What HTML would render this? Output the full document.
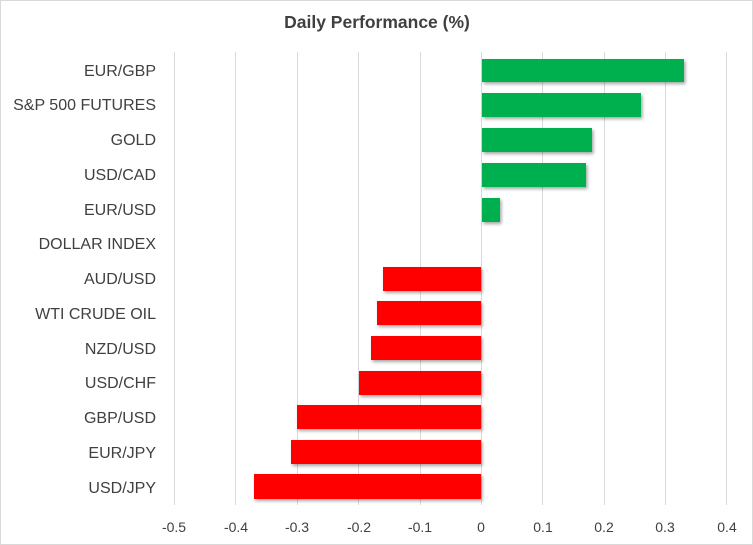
<!DOCTYPE html>
<html><head><style>
html,body{margin:0;padding:0;background:#fff}
svg{display:block}
text{font-family:"Liberation Sans",sans-serif;fill:#404040}
</style></head><body>
<svg width="753" height="545" viewBox="0 0 753 545">
<defs><filter id="sh" x="-5%" y="-20%" width="110%" height="150%"><feDropShadow dx="1.5" dy="2" stdDeviation="1.5" flood-color="#000" flood-opacity="0.35"/></filter></defs>
<rect x="0.5" y="0.5" width="752" height="544" fill="#fff" stroke="#d9d9d9"/>
<text x="377" y="28" text-anchor="middle" font-size="17.5" font-weight="bold" fill="#404040">Daily Performance  (%)</text>
<g stroke="#d9d9d9" stroke-width="1">
<line x1="174.5" y1="52" x2="174.5" y2="505"/>
<line x1="235.5" y1="52" x2="235.5" y2="505"/>
<line x1="297.5" y1="52" x2="297.5" y2="505"/>
<line x1="358.5" y1="52" x2="358.5" y2="505"/>
<line x1="420.5" y1="52" x2="420.5" y2="505"/>
<line x1="481.5" y1="52" x2="481.5" y2="505"/>
<line x1="542.5" y1="52" x2="542.5" y2="505"/>
<line x1="604.5" y1="52" x2="604.5" y2="505"/>
<line x1="665.5" y1="52" x2="665.5" y2="505"/>
<line x1="726.5" y1="52" x2="726.5" y2="505"/>
</g>
<g filter="url(#sh)">
<rect x="482" y="59" width="202" height="23" fill="#00b050"/>
<rect x="482" y="93" width="159" height="24" fill="#00b050"/>
<rect x="482" y="128" width="110" height="24" fill="#00b050"/>
<rect x="482" y="163" width="104" height="24" fill="#00b050"/>
<rect x="482" y="198" width="18" height="24" fill="#00b050"/>
<rect x="383" y="267" width="98" height="24" fill="#ff0000"/>
<rect x="377" y="301" width="104" height="24" fill="#ff0000"/>
<rect x="371" y="336" width="110" height="24" fill="#ff0000"/>
<rect x="359" y="371" width="122" height="24" fill="#ff0000"/>
<rect x="297" y="405" width="184" height="24" fill="#ff0000"/>
<rect x="291" y="440" width="190" height="24" fill="#ff0000"/>
<rect x="254" y="474" width="227" height="25" fill="#ff0000"/>
</g>
<g font-size="16" text-anchor="end">
<text x="156" y="76">EUR/GBP</text>
<text x="156" y="110">S&amp;P 500 FUTURES</text>
<text x="156" y="145">GOLD</text>
<text x="156" y="180">USD/CAD</text>
<text x="156" y="215">EUR/USD</text>
<text x="156" y="249">DOLLAR INDEX</text>
<text x="156" y="284">AUD/USD</text>
<text x="156" y="319">WTI CRUDE OIL</text>
<text x="156" y="354">NZD/USD</text>
<text x="156" y="388">USD/CHF</text>
<text x="156" y="423">GBP/USD</text>
<text x="156" y="458">EUR/JPY</text>
<text x="156" y="493">USD/JPY</text>
</g>
<g font-size="14" text-anchor="middle">
<text x="174" y="532">-0.5</text>
<text x="236" y="532">-0.4</text>
<text x="297" y="532">-0.3</text>
<text x="359" y="532">-0.2</text>
<text x="420" y="532">-0.1</text>
<text x="481" y="532">0</text>
<text x="543" y="532">0.1</text>
<text x="604" y="532">0.2</text>
<text x="665" y="532">0.3</text>
<text x="727" y="532">0.4</text>
</g>
</svg>
</body></html>
